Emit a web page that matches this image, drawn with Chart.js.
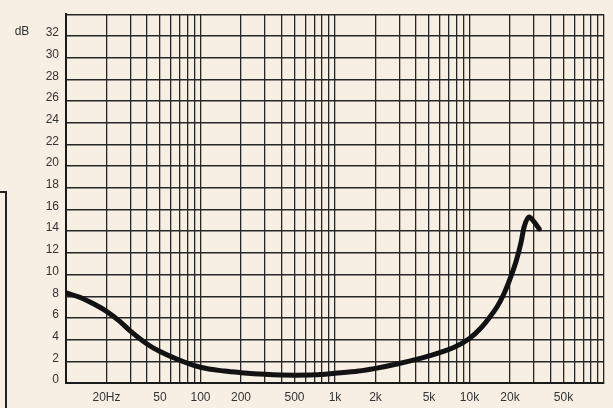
<!DOCTYPE html>
<html><head><meta charset="utf-8">
<script src="https://cdn.jsdelivr.net/npm/chart.js@4.4.0/dist/chart.umd.min.js"></script>
<style>
html,body{margin:0;padding:0;background:#f8efe4;overflow:hidden;}
#wrap{position:relative;width:613px;height:408px;}
#box{position:absolute;left:-2px;top:191px;width:7px;height:240px;border-top:2px solid #222;border-right:2px solid #222;}
canvas{position:absolute;left:0;top:0;}
</style></head><body>
<div id="wrap"><div id="box"></div><canvas id="c" width="613" height="408"></canvas></div>
<script>
// Frequency response (Hz -> dB)
const freqs = [10, 12.7, 16, 20, 25, 30, 40, 50, 70, 100, 150, 200, 300, 500, 700, 1000, 1500, 2000, 3000, 5000, 7700, 10000, 12000, 14000, 16000, 18000, 20000, 22300, 24200, 25500, 27700, 30000, 33000];
const levels = [8.3, 7.9, 7.3, 6.6, 5.7, 4.8, 3.6, 2.9, 2.1, 1.45, 1.1, 0.95, 0.8, 0.72, 0.75, 0.9, 1.1, 1.35, 1.8, 2.5, 3.3, 4.1, 5.0, 6.0, 7.0, 8.2, 9.6, 11.3, 13.0, 14.4, 15.3, 14.9, 14.2];

// x tick labels
const xLabelValues = [20, 50, 100, 200, 500, 1000, 2000, 5000, 10000, 20000, 50000];
const xLabelTexts  = ['20Hz', '50', '100', '200', '500', '1k', '2k', '5k', '10k', '20k', '50k'];
// y ticks
const yMin = 0, yMax = 34, yStep = 2;
const yUnit = 'dB';

// gridlines: 1..9 x each decade from 10 Hz to 100 kHz
const xGrid = [];
for (let d = 10; d < 100000; d *= 10) for (let m = 1; m < 10; m++) xGrid.push(m * d);
xGrid.push(100000);

const gridColor = '#262626';
const labelColor = '#333333';
const font = {family: "'Liberation Sans', Arial, sans-serif", size: 12};

const unitPlugin = {
  id: 'unit',
  afterDraw(chart) {
    const ctx = chart.ctx, y = chart.scales.y.getPixelForValue(32);
    ctx.save();
    ctx.font = "12px 'Liberation Sans', Arial, sans-serif";
    ctx.fillStyle = labelColor;
    ctx.textAlign = 'center';
    ctx.textBaseline = 'middle';
    ctx.fillText(yUnit, 22, y - 4);
    ctx.restore();
  }
};

new Chart(document.getElementById('c'), {
  type: 'line',
  data: {
    datasets: [{
      data: freqs.map((f, i) => ({x: f, y: levels[i]})),
      borderColor: '#121212',
      borderWidth: 5,
      borderCapStyle: 'round',
      borderJoinStyle: 'round',
      pointRadius: 0,
      cubicInterpolationMode: 'monotone',
      fill: false
    }]
  },
  options: {
    responsive: false,
    devicePixelRatio: 1,
    animation: false,
    layout: {padding: {top: 8, right: 9, left: 0, bottom: 0}},
    plugins: {legend: {display: false}, tooltip: {enabled: false}},
    scales: {
      x: {
        type: 'logarithmic',
        min: 10, max: 100000,
        afterBuildTicks(s) { s.ticks = xGrid.map(v => ({value: v})); },
        afterFit(s) { s.height = 25; },
        grid: {color: gridColor, lineWidth: 1.3, drawTicks: false},
        border: {display: true, color: '#1a1a1a', width: 2},
        ticks: {
          autoSkip: false, maxRotation: 0, minRotation: 0, padding: 7,
          color: labelColor, font,
          callback(v) { const i = xLabelValues.indexOf(v); return i >= 0 ? xLabelTexts[i] : ''; }
        }
      },
      y: {
        min: yMin, max: yMax,
        afterFit(s) { s.width = 66; },
        grid: {color: gridColor, lineWidth: 1.4, drawTicks: false},
        border: {display: true, color: '#1a1a1a', width: 2},
        ticks: {
          stepSize: yStep, padding: 7, labelOffset: -3,
          color: labelColor, font,
          callback(v) { return v === yMax ? '' : String(v); }
        }
      }
    }
  },
  plugins: [unitPlugin]
});
</script>
</body></html>
